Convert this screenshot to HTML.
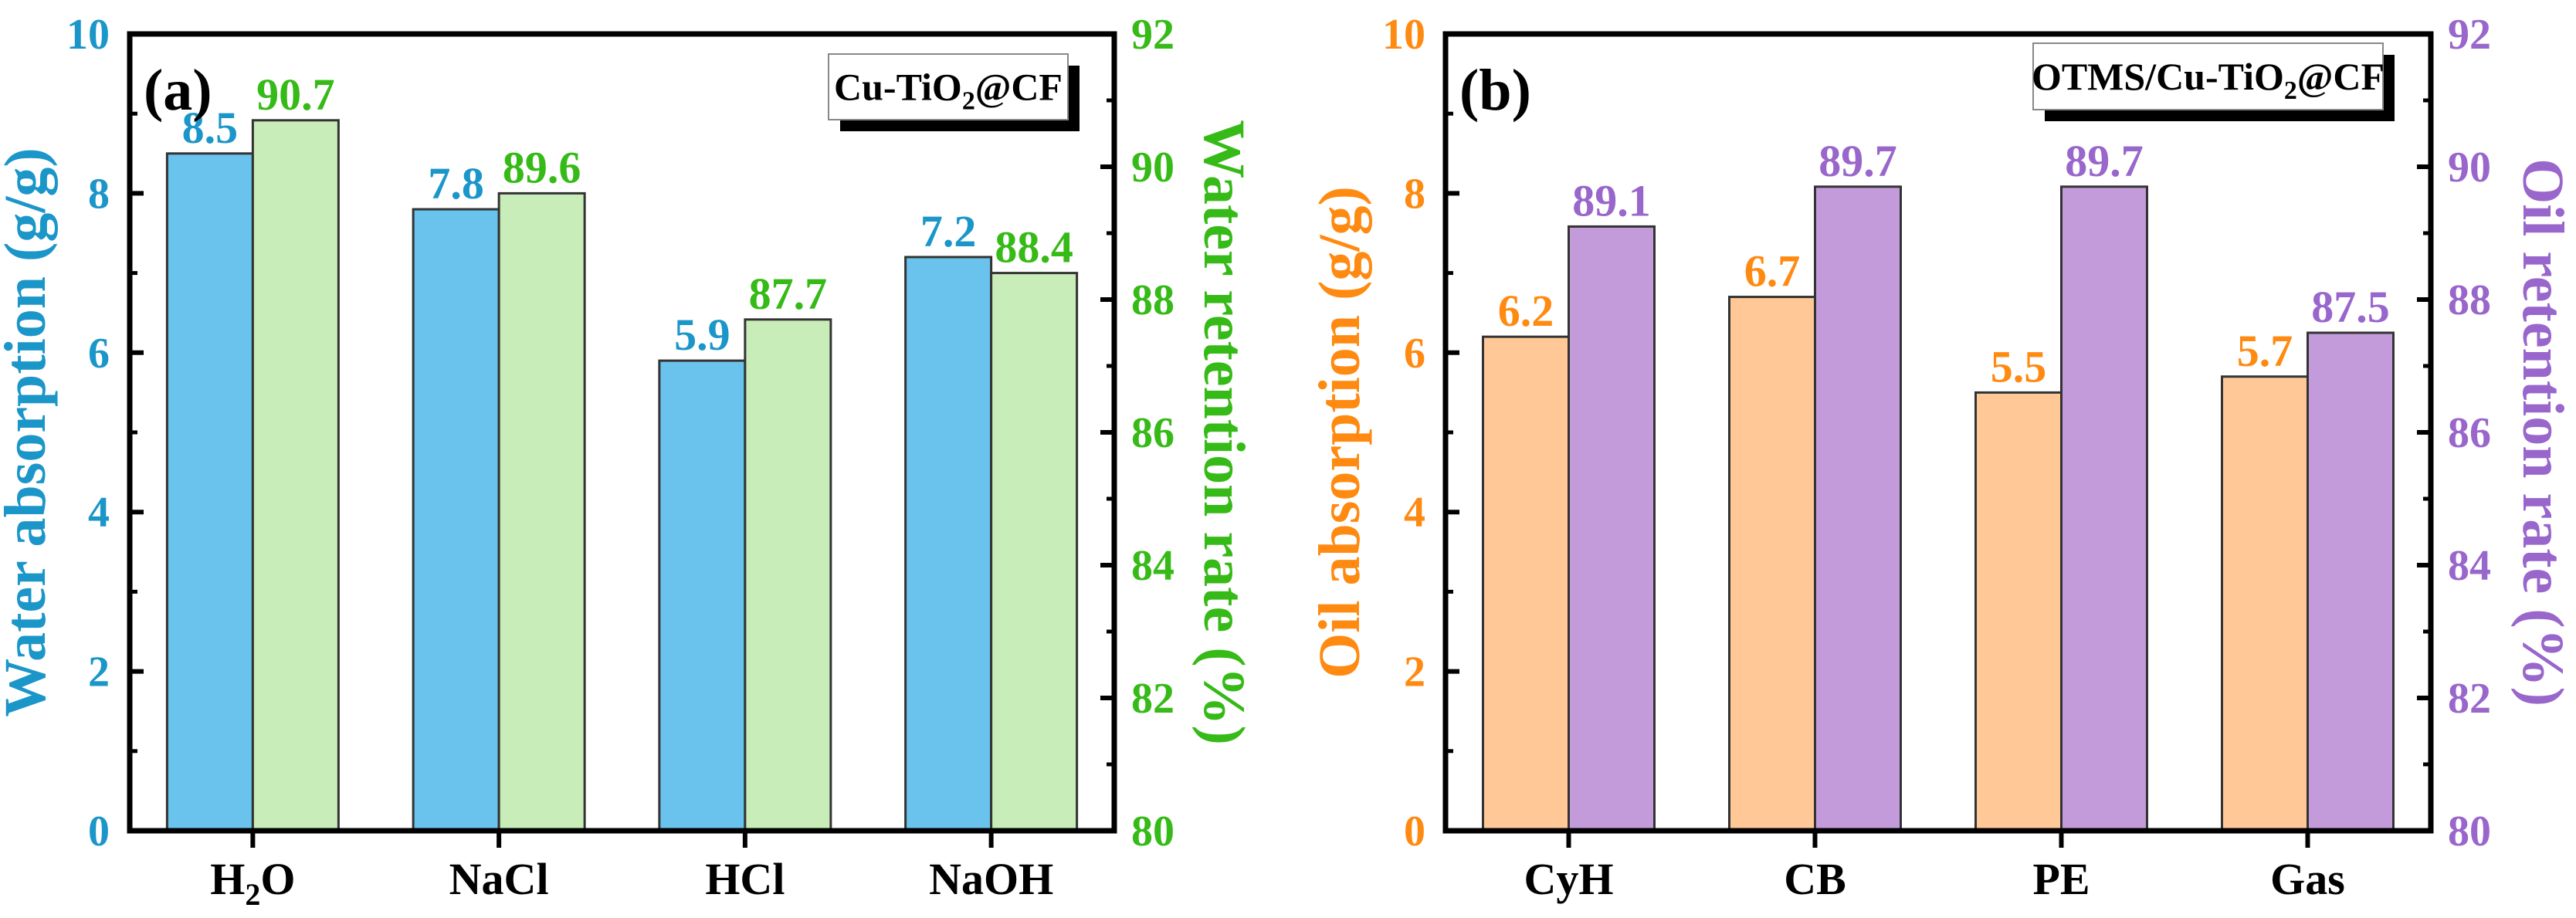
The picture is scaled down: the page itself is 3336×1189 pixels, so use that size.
<!DOCTYPE html>
<html><head><meta charset="utf-8"><style>
html,body{margin:0;padding:0;background:#fff;}
svg{display:block;}
svg text{font-family:"Liberation Serif","DejaVu Serif",serif;font-weight:bold;}
</style></head><body>
<svg id="chart" width="3336" height="1189" viewBox="0 0 3336 1189" xmlns="http://www.w3.org/2000/svg"></svg>
<script>
const catsA = ["H2O","NaCl","HCl","NaOH"];
const absorbA = [8.5,7.8,5.9,7.2];
const retainA = [90.7,89.6,87.7,88.4];
const catsB = ["CyH","CB","PE","Gas"];
const absorbB = [6.2,6.7,5.5,5.7];
const retainB = [89.1,89.7,89.7,87.5];
const leftTicks = [0,2,4,6,8,10];
const rightTicks = [80,82,84,86,88,90,92];

const NS="http://www.w3.org/2000/svg";
const svg=document.getElementById('chart');
function mk(tag,attrs,parent,name,inter){
  const e=document.createElementNS(NS,tag);
  for(const k in attrs)e.setAttribute(k,attrs[k]);
  
  
  if(tag==='text'){e.setAttribute('font-family','Liberation Serif, serif');e.setAttribute('font-weight','bold');}
  (parent||svg).appendChild(e);return e;
}
function panel(cfg){
  const g=mk('g',{},svg,cfg.id+'-panel',false);
  const L=cfg.left,R=cfg.right,T=44,B=1076;
  const yL=v=>B-(v-0)/10*(B-T);
  const yR=v=>B-(v-80)/12*(B-T);
  const n=cfg.cats.length, step=(R-L)/n, bw=111;
  const xc=i=>L+step*(i+0.5);
  cfg.abs.forEach((v,i)=>{
    mk('rect',{x:xc(i)-bw,y:yL(v),width:bw,height:B-yL(v),fill:cfg.c1,stroke:'#333','stroke-width':3},g,'bar-'+cfg.id+'-absorption-'+cfg.cats[i].toLowerCase(),false);
    const t=mk('text',{x:xc(i)-bw/2,y:yL(v)-14,'text-anchor':'middle','font-size':58,fill:cfg.t1},g,'value-label-absorption',false);
    t.textContent=v.toFixed(1);
  });
  cfg.ret.forEach((v,i)=>{
    mk('rect',{x:xc(i),y:yR(v),width:bw,height:B-yR(v),fill:cfg.c2,stroke:'#333','stroke-width':3},g,'bar-'+cfg.id+'-retention-'+cfg.cats[i].toLowerCase(),false);
    const t=mk('text',{x:xc(i)+bw/2,y:yR(v)-14,'text-anchor':'middle','font-size':58,fill:cfg.t2},g,'value-label-retention',false);
    t.textContent=v.toFixed(1);
  });
  mk('rect',{x:L,y:T,width:R-L,height:B-T,fill:'none',stroke:'#000','stroke-width':7},g,'plot-frame',false);
  leftTicks.forEach(v=>{
    mk('line',{x1:L,x2:L+18,y1:yL(v),y2:yL(v),stroke:'#000','stroke-width':6},g,'left-tick',false);
    if(v<10)mk('line',{x1:L,x2:L+10,y1:yL(v+1),y2:yL(v+1),stroke:'#000','stroke-width':5},g,'left-minor-tick',false);
    const t=mk('text',{x:L-26,y:yL(v)+19,'text-anchor':'end','font-size':56,fill:cfg.t1},g,'left-tick-label',false);
    t.textContent=v;
  });
  rightTicks.forEach(v=>{
    mk('line',{x1:R,x2:R-18,y1:yR(v),y2:yR(v),stroke:'#000','stroke-width':6},g,'right-tick',false);
    if(v<92)mk('line',{x1:R,x2:R-10,y1:yR(v+1),y2:yR(v+1),stroke:'#000','stroke-width':5},g,'right-minor-tick',false);
    const t=mk('text',{x:R+22,y:yR(v)+19,'text-anchor':'start','font-size':56,fill:cfg.t2},g,'right-tick-label',false);
    t.textContent=v;
  });
  cfg.cats.forEach((c,i)=>{
    mk('line',{x1:xc(i),x2:xc(i),y1:B,y2:B+22,stroke:'#000','stroke-width':6},g,'x-tick',false);
    const t=mk('text',{x:xc(i),y:B+82,'text-anchor':'middle','font-size':58,fill:'#000'},g,'x-tick-label',false);
    if(c==='H2O'){t.innerHTML='H<tspan font-size="40" dy="14">2</tspan><tspan dy="-14">O</tspan>';}
    else t.textContent=c;
  });
  const cy=(T+B)/2;
  const lt=mk('text',{x:cfg.ltx,y:cy,'text-anchor':'middle','font-size':76,fill:cfg.t1,transform:`rotate(-90 ${cfg.ltx} ${cy})`},g,'left-axis-title',false);
  lt.textContent=cfg.ltitle;
  const rt=mk('text',{x:cfg.rtx,y:cy,'text-anchor':'middle','font-size':76,fill:cfg.t2,transform:`rotate(90 ${cfg.rtx} ${cy})`},g,'right-axis-title',false);
  rt.textContent=cfg.rtitle;
  const pl=mk('text',{x:L+18,y:T+98,'font-size':76,fill:'#000'},g,'panel-label',false);
  pl.textContent=cfg.plabel;
  const lg=mk('g',{},g,'sample-legend',false);
  mk('rect',{x:cfg.bx+15,y:cfg.by+15,width:cfg.bw,height:cfg.bh,fill:'#000'},lg,'legend-shadow',false);
  mk('rect',{x:cfg.bx,y:cfg.by,width:cfg.bw,height:cfg.bh,fill:'#fff',stroke:'#888','stroke-width':2},lg,'legend-box',false);
  const lt2=mk('text',{x:cfg.bx+cfg.bw/2,y:cfg.by+cfg.bh/2+17,'text-anchor':'middle','font-size':50,fill:'#000'},lg,'legend-text',false);
  lt2.innerHTML=cfg.btext+'Cu-TiO<tspan font-size="34" dy="12">2</tspan><tspan dy="-12">@CF</tspan>';
}
panel({id:'a',left:168,right:1443,cats:catsA,abs:absorbA,ret:retainA,c1:'#69C3EC',c2:'#C9EDB9',t1:'#1B96C9',t2:'#36BA17',
  ltitle:'Water absorption (g/g)',rtitle:'Water retention rate (%)',ltx:58,rtx:1560,plabel:'(a)',bx:1073,by:70,bw:310,bh:85,btext:''});
panel({id:'b',left:1872,right:3148,cats:catsB,abs:absorbB,ret:retainB,c1:'#FFC896',c2:'#C39BDA',t1:'#FF8A12',t2:'#9966CC',
  ltitle:'Oil absorption (g/g)',rtitle:'Oil retention rate (%)',ltx:1760,rtx:3268,plabel:'(b)',bx:2633,by:56,bw:453,bh:86,btext:'OTMS/'});
</script>
</body></html>
